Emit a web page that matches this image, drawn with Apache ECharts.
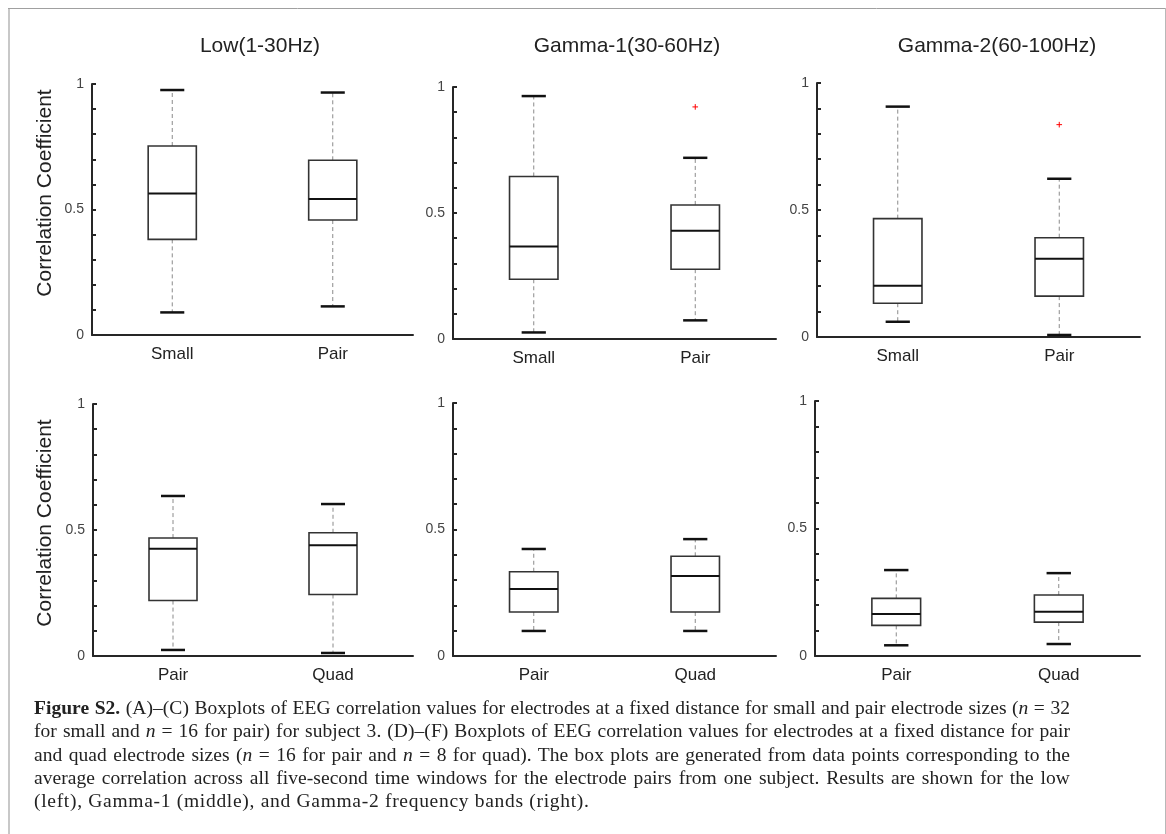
<!DOCTYPE html>
<html>
<head>
<meta charset="utf-8">
<script src="https://cdn.jsdelivr.net/npm/echarts@6/dist/echarts.min.js"></script>
<style>
  html, body { margin: 0; padding: 0; background: #fff; }
  #wrap { position: relative; width: 1166px; height: 834px; overflow: hidden; }
  #chart { position: absolute; left: 0; top: 0; width: 1166px; height: 834px; }
  #caption { position: absolute; left: 34px; top: 696px; width: 1036px;
    font-family: "Liberation Serif", "Times New Roman", serif; font-size: 19.5px;
    line-height: 23.3px; color: #222; letter-spacing: 0.05px; }
  #caption .ln { text-align: justify; text-align-last: justify; height: 23.3px; overflow: visible; }
  #caption .ln.last { text-align-last: left; letter-spacing: 0.7px; }
</style>
</head>
<body>
<div id="wrap">
  <div id="chart"></div>
  <div id="caption">
    <div class="ln"><b>Figure S2.</b> (A)–(C) Boxplots of EEG correlation values for electrodes at a fixed distance for small and pair electrode sizes (<i>n</i> = 32</div>
    <div class="ln">for small and <i>n</i> = 16 for pair) for subject 3. (D)–(F) Boxplots of EEG correlation values for electrodes at a fixed distance for pair</div>
    <div class="ln">and quad electrode sizes (<i>n</i> = 16 for pair and <i>n</i> = 8 for quad). The box plots are generated from data points corresponding to the</div>
    <div class="ln">average correlation across all five-second time windows for the electrode pairs from one subject. Results are shown for the low</div>
    <div class="ln last">(left), Gamma-1 (middle), and Gamma-2 frequency bands (right).</div>
  </div>
</div>
<script>
// ---------- DATA ----------
const bandTitles = ['Low(1-30Hz)', 'Gamma-1(30-60Hz)', 'Gamma-2(60-100Hz)'];
const topCategories = ['Small', 'Pair'];
const bottomCategories = ['Pair', 'Quad'];
const yAxisTitle = 'Correlation Coefficient';
const yTickValues = [0, 0.5, 1];
const yTickLabels = ['0', '0.5', '1'];
// each box: [lower whisker, Q1, median, Q3, upper whisker]
const lowSmallPair    = [[0.090, 0.381, 0.564, 0.753, 0.976], [0.114, 0.458, 0.542, 0.696, 0.966]];
const gamma1SmallPair = [[0.026, 0.237, 0.367, 0.645, 0.964], [0.074, 0.277, 0.430, 0.532, 0.719]];
const gamma2SmallPair = [[0.060, 0.133, 0.202, 0.466, 0.907], [0.008, 0.161, 0.308, 0.391, 0.623]];
const lowPairQuad     = [[0.024, 0.220, 0.426, 0.468, 0.635], [0.012, 0.244, 0.439, 0.489, 0.603]];
const gamma1PairQuad  = [[0.099, 0.174, 0.265, 0.333, 0.423], [0.099, 0.174, 0.316, 0.394, 0.462]];
const gamma2PairQuad  = [[0.042, 0.120, 0.165, 0.226, 0.337], [0.047, 0.133, 0.174, 0.239, 0.325]];
// outliers: [category, value]
const lowSmallPairOutliers    = [];
const gamma1SmallPairOutliers = [['Pair', 0.921]];
const gamma2SmallPairOutliers = [['Pair', 0.836]];
const lowPairQuadOutliers     = [];
const gamma1PairQuadOutliers  = [];
const gamma2PairQuadOutliers  = [];

// ---------- LAYOUT ----------
const panels = [
  { cats: topCategories, boxes: lowSmallPair, outliers: lowSmallPairOutliers, grid: { left: 92, top: 84, width: 321, height: 251 } },
  { cats: topCategories, boxes: gamma1SmallPair, outliers: gamma1SmallPairOutliers, grid: { left: 453, top: 87, width: 323, height: 252 } },
  { cats: topCategories, boxes: gamma2SmallPair, outliers: gamma2SmallPairOutliers, grid: { left: 817, top: 83, width: 323, height: 254 } },
  { cats: bottomCategories, boxes: lowPairQuad, outliers: lowPairQuadOutliers, grid: { left: 93, top: 404, width: 320, height: 252 } },
  { cats: bottomCategories, boxes: gamma1PairQuad, outliers: gamma1PairQuadOutliers, grid: { left: 453, top: 403, width: 323, height: 253 } },
  { cats: bottomCategories, boxes: gamma2PairQuad, outliers: gamma2PairQuadOutliers, grid: { left: 815, top: 401, width: 325, height: 255 } }
];
const titlePos = [[260, 46], [627, 46], [997, 46]];
const yNamePos = [[45, 193], [45, 523]];

const FONT = '"Liberation Sans", Arial, sans-serif';
const AXIS_COLOR = '#262626';

function renderBox(params, api) {
  const xi = api.value(0);
  const lo = api.coord([xi, api.value(1)]);
  const q1 = api.coord([xi, api.value(2)]);
  const md = api.coord([xi, api.value(3)]);
  const q3 = api.coord([xi, api.value(4)]);
  const hi = api.coord([xi, api.value(5)]);
  const band = api.size([1, 0])[0];
  const bw = band * 0.30, cw = band * 0.15;
  const cx = lo[0];
  const dash = { stroke: '#8a8a8a', lineWidth: 1, lineDash: [4, 3] };
  return {
    type: 'group',
    children: [
      { type: 'line', shape: { x1: cx, y1: q3[1], x2: cx, y2: hi[1] }, style: dash },
      { type: 'line', shape: { x1: cx, y1: q1[1], x2: cx, y2: lo[1] }, style: dash },
      { type: 'rect', shape: { x: cx - bw / 2, y: q3[1], width: bw, height: q1[1] - q3[1] },
        style: { fill: 'none', stroke: '#333', lineWidth: 1.6 } },
      { type: 'line', shape: { x1: cx - bw / 2, y1: md[1], x2: cx + bw / 2, y2: md[1] },
        style: { stroke: '#111', lineWidth: 2 } },
      { type: 'line', shape: { x1: cx - cw / 2, y1: hi[1], x2: cx + cw / 2, y2: hi[1] },
        style: { stroke: '#111', lineWidth: 2.5 } },
      { type: 'line', shape: { x1: cx - cw / 2, y1: lo[1], x2: cx + cw / 2, y2: lo[1] },
        style: { stroke: '#111', lineWidth: 2.5 } }
    ]
  };
}

function renderPlus(params, api) {
  const p = api.coord([api.value(0), api.value(1)]);
  const s = 2.8;
  return {
    type: 'group',
    children: [
      { type: 'line', shape: { x1: p[0] - s, y1: p[1], x2: p[0] + s, y2: p[1] }, style: { stroke: '#ff0000', lineWidth: 1 } },
      { type: 'line', shape: { x1: p[0], y1: p[1] - s, x2: p[0], y2: p[1] + s }, style: { stroke: '#ff0000', lineWidth: 1 } }
    ]
  };
}

function yLabel(v) {
  for (let i = 0; i < yTickValues.length; i++) {
    if (Math.abs(v - yTickValues[i]) < 1e-9) return yTickLabels[i];
  }
  return '';
}

const grids = [], xAxes = [], yAxes = [], series = [];
panels.forEach((p, i) => {
  grids.push(Object.assign({ containLabel: false }, p.grid));
  xAxes.push({
    type: 'category', gridIndex: i, data: p.cats, boundaryGap: true,
    axisLine: { lineStyle: { color: AXIS_COLOR, width: 2 } },
    axisTick: { inside: true, alignWithLabel: true, length: 4, lineStyle: { color: AXIS_COLOR, width: 2 } },
    axisLabel: { color: '#222', fontSize: 17, fontFamily: FONT, margin: 11 },
    splitLine: { show: false }
  });
  yAxes.push({
    type: 'value', gridIndex: i, min: 0, max: 1, interval: 0.1,
    axisLine: { show: true, lineStyle: { color: AXIS_COLOR, width: 2 } },
    axisTick: { show: true, inside: true, length: 4, lineStyle: { color: AXIS_COLOR, width: 2 } },
    axisLabel: { color: '#444', fontSize: 14, fontFamily: FONT, margin: 8, formatter: yLabel },
    splitLine: { show: false }
  });
  series.push({
    type: 'custom', xAxisIndex: i, yAxisIndex: i,
    data: p.boxes.map((b, k) => [k].concat(b)),
    encode: { x: 0, y: [1, 2, 3, 4, 5] },
    renderItem: renderBox, silent: true, clip: false
  });
  if (p.outliers.length) {
    series.push({
      type: 'custom', xAxisIndex: i, yAxisIndex: i,
      data: p.outliers.map(o => [p.cats.indexOf(o[0]), o[1]]),
      encode: { x: 0, y: 1 },
      renderItem: renderPlus, silent: true, clip: false
    });
  }
});

const graphics = [
  { type: 'line', shape: { x1: 9, y1: 8, x2: 9, y2: 834 }, style: { stroke: '#c8c8c8', lineWidth: 2 }, silent: true },
  { type: 'line', shape: { x1: 8, y1: 8.5, x2: 1166, y2: 8.5 }, style: { stroke: '#a0a0a0', lineWidth: 1 }, silent: true },
  { type: 'line', shape: { x1: 1165.5, y1: 8, x2: 1165.5, y2: 834 }, style: { stroke: '#b8b8b8', lineWidth: 1 }, silent: true }
];
bandTitles.forEach((t, i) => {
  graphics.push({ type: 'text', x: titlePos[i][0], y: titlePos[i][1], silent: true,
    style: { text: t, font: '21px ' + FONT, fill: '#222', align: 'center', verticalAlign: 'middle' } });
});
yNamePos.forEach(pos => {
  graphics.push({ type: 'text', x: pos[0], y: pos[1], rotation: Math.PI / 2, silent: true,
    style: { text: yAxisTitle, font: '21px ' + FONT, fill: '#222', align: 'center', verticalAlign: 'middle' } });
});

const chart = echarts.init(document.getElementById('chart'), null, { renderer: 'canvas' });
chart.setOption({
  animation: false,
  backgroundColor: '#fff',
  grid: grids, xAxis: xAxes, yAxis: yAxes, series: series,
  graphic: graphics
});
</script>
</body>
</html>
